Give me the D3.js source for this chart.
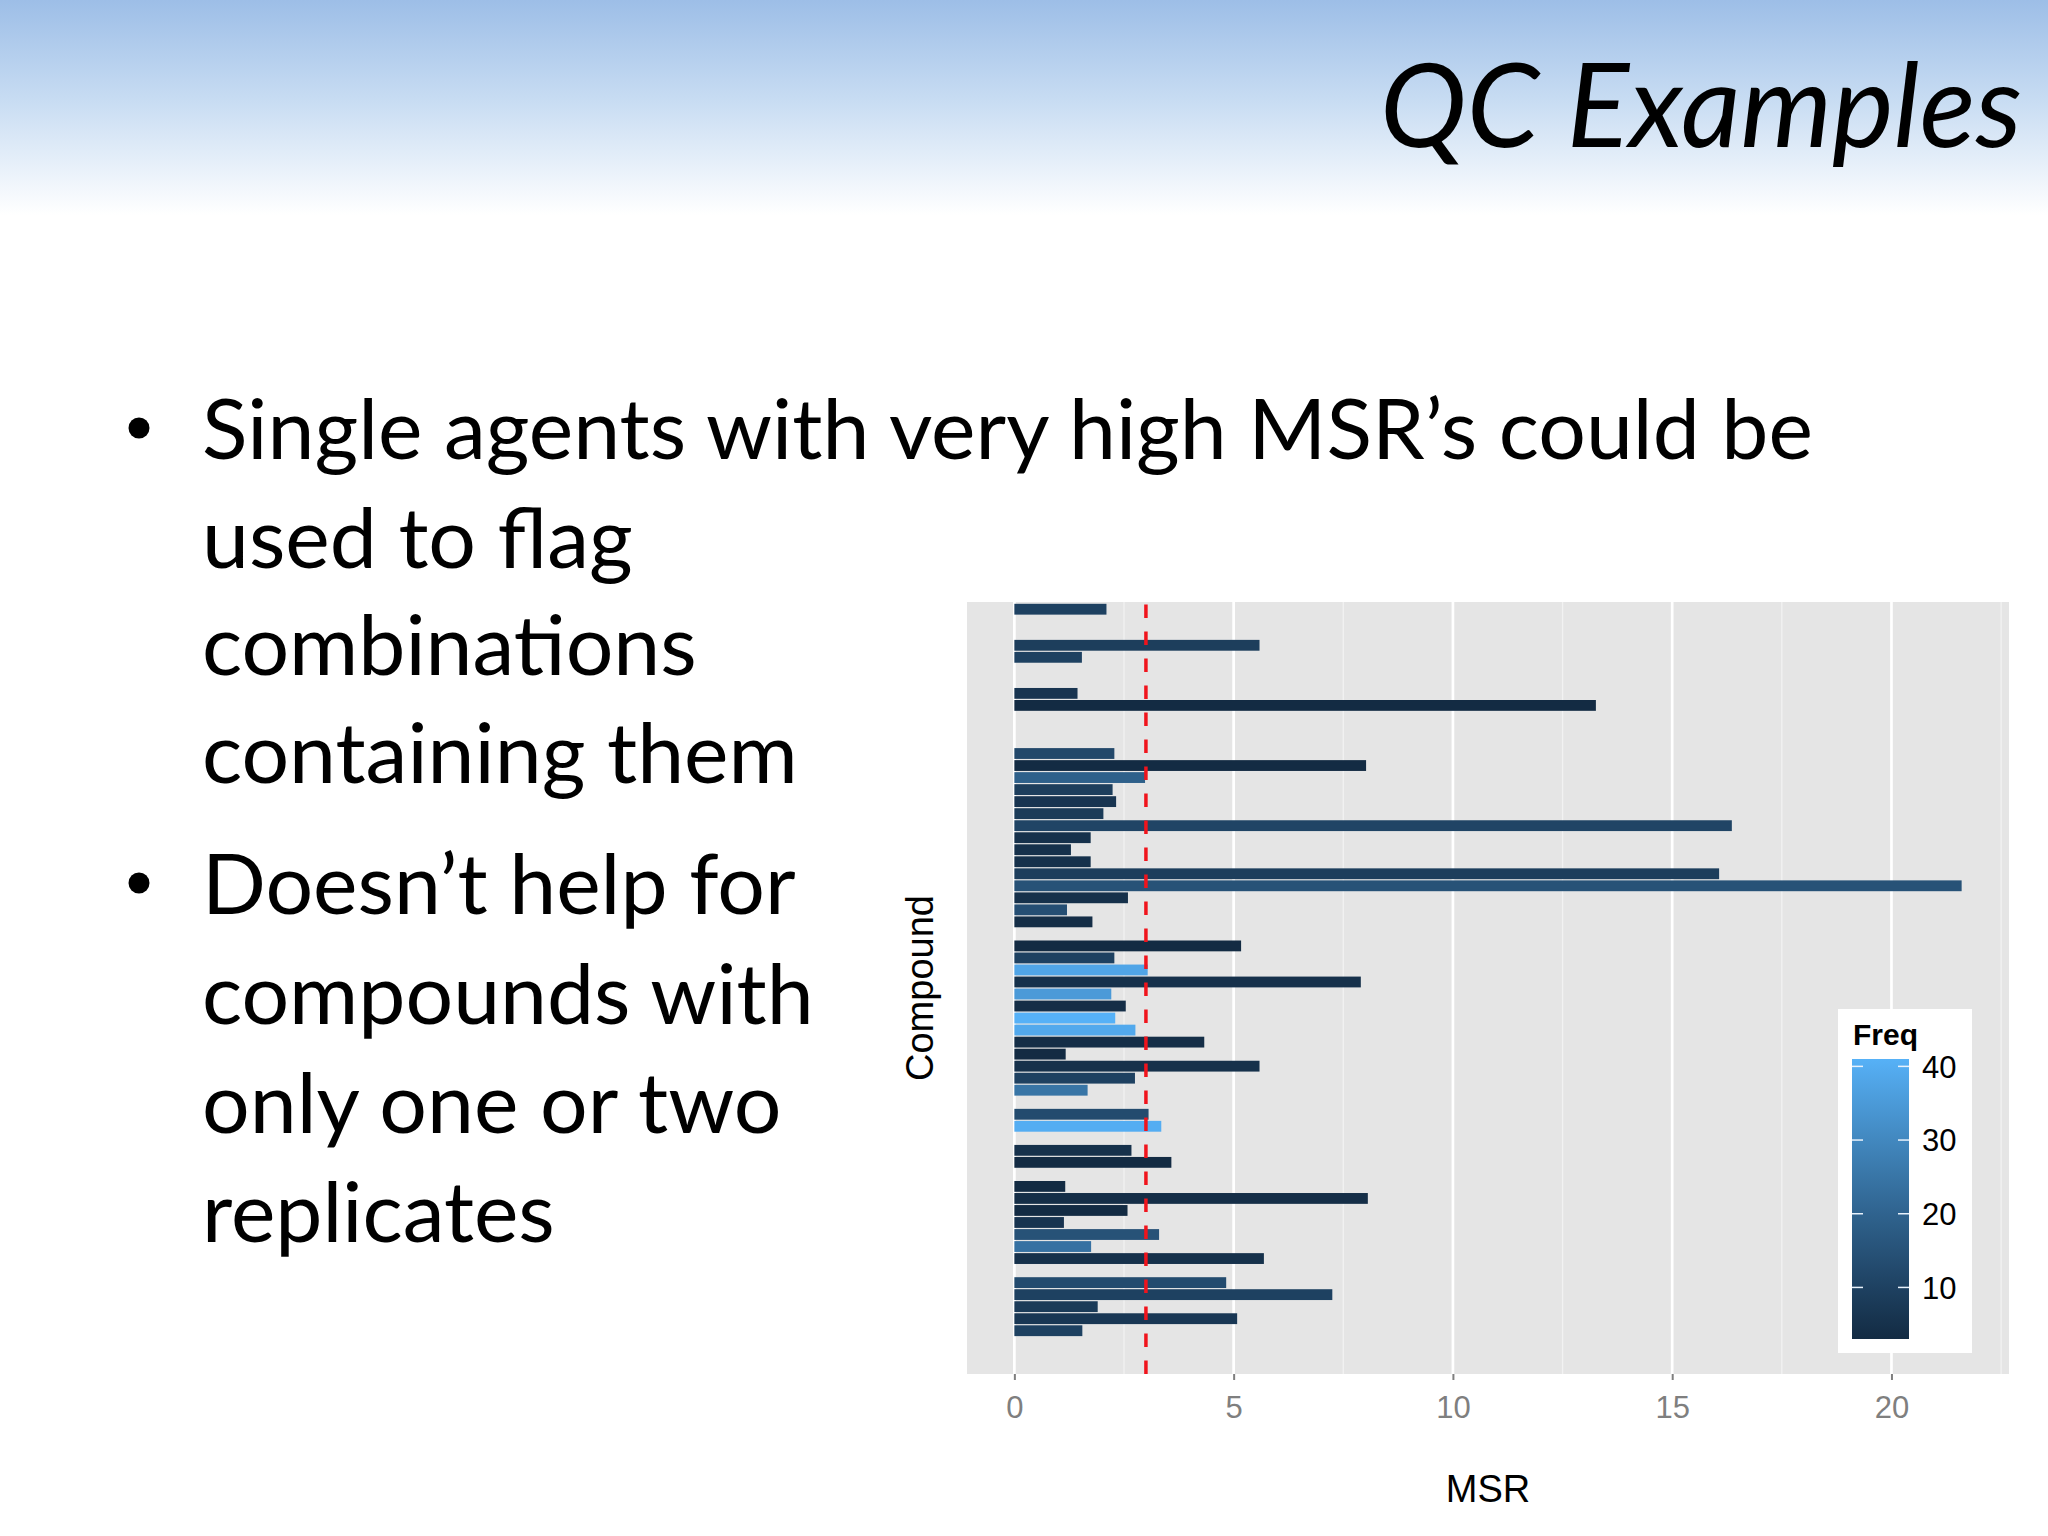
<!DOCTYPE html>
<html>
<head>
<meta charset="utf-8">
<script src="https://cdn.jsdelivr.net/npm/d3@7/dist/d3.min.js"></script>
<style>
  body { margin: 0; background: #fff; }
</style>
</head>
<body>
<div id="slide"></div>
<script>
var width = 2048,
    height = 1536;

// slide text
var titleText = "QC Examples";
var bulletLines = [
  ["Single agents with very high MSR\u2019s could be", "used to flag", "combinations", "containing them"],
  ["Doesn\u2019t help for", "compounds with", "only one or two", "replicates"]
];

// compound rows, top to bottom (no labels shown on the chart)
var compounds = ["c01","c02","c03","c04","c05","c06","c07","c08","c09","c10",
  "c11","c12","c13","c14","c15","c16","c17","c18","c19","c20",
  "c21","c22","c23","c24","c25","c26","c27","c28","c29","c30",
  "c31","c32","c33","c34","c35","c36","c37","c38","c39","c40",
  "c41","c42","c43","c44","c45","c46","c47","c48","c49","c50",
  "c51","c52","c53","c54","c55","c56","c57","c58","c59","c60",
  "c61","c62","c63","c64"];

// MSR per compound (null = no bar)
var msrValues = [2.10, null, null, 5.59, 1.54, null, null, 1.44, 13.26, null,
  null, null, 2.28, 8.02, 2.98, 2.24, 2.32, 2.03, 16.36, 1.74,
  1.29, 1.74, 16.07, 21.6, 2.59, 1.20, 1.78, null, 5.17, 2.28,
  3.04, 7.90, 2.21, 2.54, 2.30, 2.76, 4.33, 1.17, 5.59, 2.75,
  1.67, null, 3.06, 3.35, null, 2.67, 3.58, null, 1.16, 8.06,
  2.58, 1.13, 3.30, 1.75, 5.69, null, 4.83, 7.25, 1.90, 5.08,
  1.55, null, null, null];

// Freq per compound (fill colour)
var freqValues = [10, null, null, 9, 10, null, null, 6, 3, null,
  null, null, 12, 3, 19, 9, 6, 8, 11, 5,
  5, 5, 9, 15, 5, 14, 4, null, 3, 10,
  38, 5, 35, 4, 41, 39, 4, 3, 5, 10,
  25, null, 13, 40, null, 5, 3, null, 3, 4,
  3, 6, 15, 24, 5, null, 13, 10, 8, 7,
  10, null, null, null];

var msrTicks = [0, 5, 10, 15, 20],
    freqTicks = [10, 20, 30, 40],
    msrCutoff = 3;

var rows = compounds.map(function (c, i) {
  return {compound: c, msr: msrValues[i], freq: freqValues[i]};
}).filter(function (d) { return d.msr != null; });

var svg = d3.select('#slide').append('svg')
  .attr('width', width)
  .attr('height', height)
  .style('display', 'block')
  .style('background', '#ffffff');

var defs = svg.append('defs');

// slide header fade
var head = defs.append('linearGradient')
  .attr('id', 'headFade')
  .attr('x1', 0).attr('y1', 0).attr('x2', 0).attr('y2', 1);
head.append('stop').attr('offset', 0).attr('stop-color', '#9dbee7');
head.append('stop').attr('offset', 0.45).attr('stop-color', '#c6dbf2');
head.append('stop').attr('offset', 1).attr('stop-color', '#ffffff');

svg.append('rect')
  .attr('x', 0).attr('y', 0)
  .attr('width', width).attr('height', 215)
  .attr('fill', 'url(#headFade)');

// title, fitted to the width it takes on the slide
var title = svg.append('text')
  .attr('x', 1380)
  .attr('y', 147)
  .style('font-family', 'Lato, "Open Sans", sans-serif')
  .style('font-style', 'italic')
  .style('font-size', '100px')
  .style('fill', '#000')
  .text(titleText);
var tw = title.node().getComputedTextLength();
title.style('font-size', (100 * 642 / tw) + 'px');

// bullet text
var body = svg.append('g')
  .style('font-family', 'Lato, "Open Sans", sans-serif')
  .style('fill', '#000');

var probe = body.append('text').style('font-size', '100px').text(bulletLines[0][0]);
var bodySize = 100 * 1611 / probe.node().getComputedTextLength();
probe.remove();

var baselines = [[459, 568, 675, 783], [914, 1024, 1133, 1242]];

bulletLines.forEach(function (lines, b) {
  body.append('circle')
    .attr('cx', 139)
    .attr('cy', baselines[b][0] - 31)
    .attr('r', 10.5)
    .attr('fill', '#000');
  body.selectAll(null).data(lines)
    .enter().append('text')
    .attr('x', 202)
    .attr('y', function (d, i) { return baselines[b][i]; })
    .style('font-size', bodySize + 'px')
    .text(function (d) { return d; });
});

// chart
var panel = {left: 967, right: 2009, top: 602, bottom: 1374};

var maxMsr = d3.max(rows, function (d) { return d.msr; }),
    pad = maxMsr * 0.05;

var x = d3.scaleLinear()
  .domain([-pad, maxMsr + pad])
  .range([panel.left, panel.right]);

var y = d3.scalePoint()
  .domain(compounds)
  .range([panel.top, panel.bottom])
  .padding(0.6);

var barH = y.step() * 0.9;

var color = d3.scaleLinear()
  .domain(d3.extent(rows, function (d) { return d.freq; }))
  .range(['#132B43', '#56B1F7'])
  .interpolate(d3.interpolateLab);

var chart = svg.append('g');

chart.append('rect')
  .attr('x', panel.left).attr('y', panel.top)
  .attr('width', panel.right - panel.left)
  .attr('height', panel.bottom - panel.top)
  .attr('fill', '#E5E5E5');

var minorTicks = msrTicks.map(function (t) { return t + 2.5; })
  .filter(function (t) { return t < x.domain()[1]; });

chart.selectAll('.minor').data(minorTicks)
  .enter().append('line')
  .attr('class', 'minor')
  .attr('x1', function (d) { return x(d); })
  .attr('x2', function (d) { return x(d); })
  .attr('y1', panel.top).attr('y2', panel.bottom)
  .style('stroke', '#F2F2F2')
  .style('stroke-width', 1.3);

chart.selectAll('.major').data(msrTicks)
  .enter().append('line')
  .attr('class', 'major')
  .attr('x1', function (d) { return x(d); })
  .attr('x2', function (d) { return x(d); })
  .attr('y1', panel.top).attr('y2', panel.bottom)
  .style('stroke', '#ffffff')
  .style('stroke-width', 2.7);

chart.selectAll('.bar').data(rows)
  .enter().append('rect')
  .attr('class', 'bar')
  .attr('x', x(0))
  .attr('y', function (d) { return y(d.compound) - barH / 2; })
  .attr('width', function (d) { return x(d.msr) - x(0); })
  .attr('height', barH)
  .style('fill', function (d) { return color(d.freq); });

// cutoff line, drawn bottom up like ggplot's vline
chart.append('line')
  .attr('x1', x(msrCutoff)).attr('x2', x(msrCutoff))
  .attr('y1', panel.bottom).attr('y2', panel.top)
  .style('stroke', '#f0141c')
  .style('stroke-width', 3.5)
  .style('stroke-dasharray', '13.5,13.5');

// x axis
var xAxis = chart.append('g')
  .attr('transform', 'translate(0,' + panel.bottom + ')')
  .call(d3.axisBottom(x).tickValues(msrTicks).tickSize(6).tickPadding(16));
xAxis.select('.domain').remove();
xAxis.selectAll('.tick line').style('stroke', '#7f7f7f').style('stroke-width', 2);
xAxis.selectAll('.tick text')
  .style('font-family', '"Liberation Sans", Arial, sans-serif')
  .style('font-size', '31px')
  .style('fill', '#7f7f7f');

chart.append('text')
  .attr('x', (panel.left + panel.right) / 2)
  .attr('y', 1502)
  .attr('text-anchor', 'middle')
  .style('font-family', '"Liberation Sans", Arial, sans-serif')
  .style('font-size', '38px')
  .text('MSR');

chart.append('text')
  .attr('transform', 'translate(933,988) rotate(-90)')
  .attr('text-anchor', 'middle')
  .style('font-family', '"Liberation Sans", Arial, sans-serif')
  .style('font-size', '38px')
  .text('Compound');

// legend
var legend = chart.append('g');
legend.append('rect')
  .attr('x', 1838).attr('y', 1009)
  .attr('width', 134).attr('height', 344)
  .attr('fill', '#ffffff');

legend.append('text')
  .attr('x', 1853).attr('y', 1045)
  .style('font-family', '"Liberation Sans", Arial, sans-serif')
  .style('font-weight', 'bold')
  .style('font-size', '30px')
  .text('Freq');

var bar = {left: 1852, right: 1909, top: 1059, bottom: 1339};

var lg = d3.scaleLinear()
  .domain(color.domain())
  .range([bar.bottom, bar.top]);

var grad = defs.append('linearGradient')
  .attr('id', 'freqBar')
  .attr('x1', 0).attr('y1', 1).attr('x2', 0).attr('y2', 0);
grad.selectAll('stop').data(d3.range(0, 1.0001, 0.1))
  .enter().append('stop')
  .attr('offset', function (d) { return d; })
  .attr('stop-color', function (d) {
    return color(color.domain()[0] + d * (color.domain()[1] - color.domain()[0]));
  });

legend.append('rect')
  .attr('x', bar.left).attr('y', bar.top)
  .attr('width', bar.right - bar.left)
  .attr('height', bar.bottom - bar.top)
  .attr('fill', 'url(#freqBar)');

var lt = legend.selectAll('.ltick').data(freqTicks)
  .enter().append('g')
  .attr('class', 'ltick')
  .attr('transform', function (d) { return 'translate(0,' + lg(d) + ')'; });
lt.append('line')
  .attr('x1', bar.left).attr('x2', bar.left + 11)
  .style('stroke', '#e8f2fc').style('stroke-width', 1.5);
lt.append('line')
  .attr('x1', bar.right - 11).attr('x2', bar.right)
  .style('stroke', '#e8f2fc').style('stroke-width', 1.5);
lt.append('text')
  .attr('x', 1922)
  .attr('dy', '0.36em')
  .style('font-family', '"Liberation Sans", Arial, sans-serif')
  .style('font-size', '31px')
  .text(function (d) { return d; });
</script>
</body>
</html>
